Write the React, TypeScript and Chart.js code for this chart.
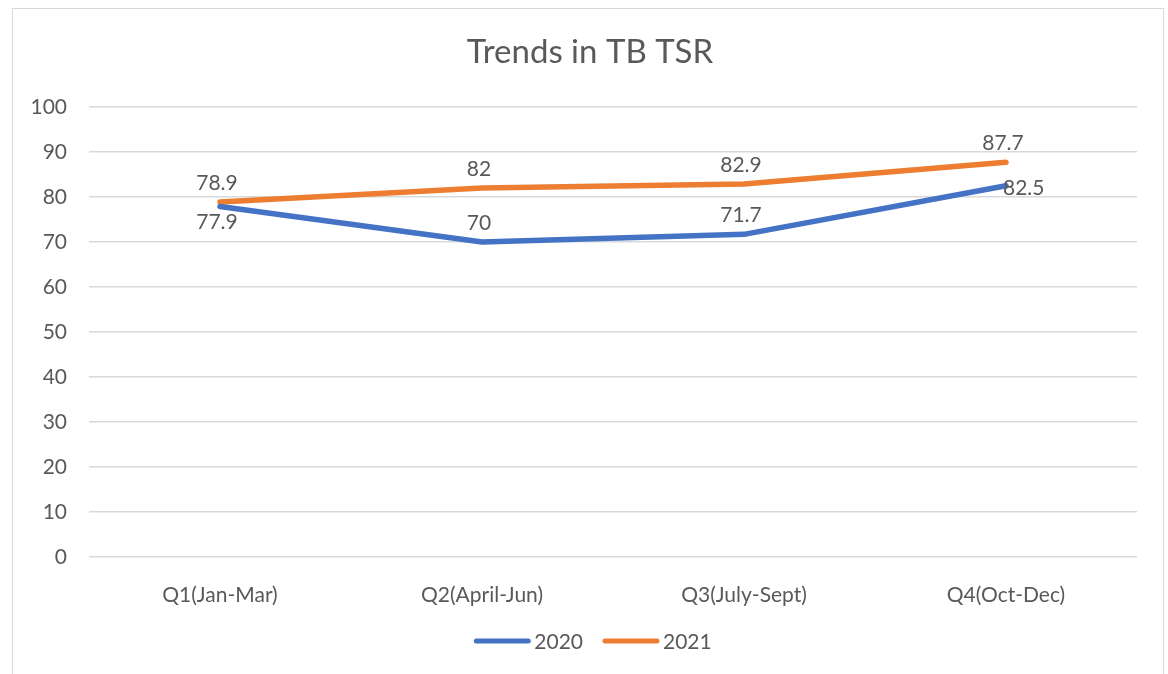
import React, { useEffect, useRef } from "react";
import { Chart, registerables } from "chart.js";

Chart.register(...registerables);

const categories = ["Q1(Jan-Mar)", "Q2(April-Jun)", "Q3(July-Sept)", "Q4(Oct-Dec)"];
const series2020 = [77.9, 70, 71.7, 82.5];
const series2021 = [78.9, 82, 82.9, 87.7];
const seriesNames = ["2020", "2021"];
const yTicks = [0, 10, 20, 30, 40, 50, 60, 70, 80, 90, 100];
const titleText = "Trends in TB TSR";

const FONT = "Lato";
const TEXT = "#595959";
const COLORS = ["#4472C4", "#ED7D31"];
const labelPos = [
  ["below", "above", "above", "right"],
  ["above", "above", "above", "above"],
];

const decorPlugin = {
  id: "decor",
  afterDatasetsDraw(chart: any) {
    const ctx = chart.ctx;
    ctx.save();
    ctx.fillStyle = TEXT;
    // data labels
    ctx.font = `21px ${FONT}`;
    chart.data.datasets.forEach((ds: any, di: number) => {
      const meta = chart.getDatasetMeta(di);
      meta.data.forEach((pt: any, i: number) => {
        const v = ds.data[i];
        const pos = labelPos[di][i];
        ctx.textBaseline = "middle";
        if (pos === "right") {
          ctx.textAlign = "left";
          ctx.fillText(String(v), pt.x - 3, pt.y + 2);
        } else if (pos === "below") {
          ctx.textAlign = "center";
          ctx.fillText(String(v), pt.x - 3, pt.y + 16);
        } else {
          ctx.textAlign = "center";
          ctx.fillText(String(v), pt.x - 3, pt.y - 19);
        }
      });
    });
    // title
    ctx.font = `33px ${FONT}`;
    ctx.textAlign = "center";
    ctx.textBaseline = "alphabetic";
    ctx.fillText(titleText, 577, 54);
    // legend
    ctx.font = `21px ${FONT}`;
    const sw = 56, gap = 4, itemGap = 20;
    const widths = seriesNames.map((n) => ctx.measureText(n).width);
    const total = widths.reduce((a, w) => a + sw + gap + w, 0) + itemGap * (seriesNames.length - 1);
    let x = 580 - total / 2;
    const ly = 632;
    seriesNames.forEach((n, i) => {
      ctx.strokeStyle = COLORS[i];
      ctx.lineWidth = 5;
      ctx.lineCap = "round";
      ctx.beginPath();
      ctx.moveTo(x + 2, ly);
      ctx.lineTo(x + sw - 2, ly);
      ctx.stroke();
      ctx.textAlign = "left";
      ctx.textBaseline = "middle";
      ctx.fillText(n, x + sw + gap, ly + 1);
      x += sw + gap + widths[i] + itemGap;
    });
    ctx.restore();
  },
};

export default function App() {
  const ref = useRef<HTMLCanvasElement>(null);
  useEffect(() => {
    const chart = new Chart(ref.current as HTMLCanvasElement, {
      type: "line",
      data: {
        labels: categories,
        datasets: [
          { label: seriesNames[0], data: series2020, borderColor: COLORS[0], backgroundColor: COLORS[0] },
          { label: seriesNames[1], data: series2021, borderColor: COLORS[1], backgroundColor: COLORS[1] },
        ],
      },
      options: {
        animation: false,
        responsive: false,
        devicePixelRatio: 1,
        layout: { padding: { top: 98, right: 26, left: 0, bottom: 57 } },
        elements: {
          line: { borderWidth: 5.5, borderCapStyle: "round", borderJoinStyle: "round", tension: 0 },
          point: { radius: 0, hoverRadius: 0 },
        },
        plugins: { legend: { display: false }, title: { display: false }, tooltip: { enabled: false } },
        scales: {
          x: {
            offset: true,
            grid: { display: false, drawTicks: false },
            border: { display: false },
            ticks: { color: TEXT, font: { family: FONT, size: 21 }, padding: 26, maxRotation: 0 },
            afterFit: (s: any) => { s.height = 60; },
          },
          y: {
            min: 0,
            max: 100,
            afterBuildTicks: (s: any) => { s.ticks = yTicks.map((v) => ({ value: v })); },
            grid: { color: "#d9d9d9", lineWidth: 1.5, drawTicks: false },
            border: { display: false },
            ticks: { color: TEXT, font: { family: FONT, size: 21 }, padding: 22 },
            afterFit: (s: any) => { s.width = 76; },
          },
        },
      },
      plugins: [decorPlugin],
    } as any);
    return () => chart.destroy();
  }, []);
  return (
    <div
      style={{
        position: "absolute",
        left: 12,
        top: 8,
        width: 1152,
        height: 666,
        boxSizing: "border-box",
        border: "1px solid #d9d9d9",
        borderBottom: "none",
        background: "#fff",
      }}
    >
      <canvas ref={ref} width={1150} height={665} style={{ display: "block" }} />
    </div>
  );
}
